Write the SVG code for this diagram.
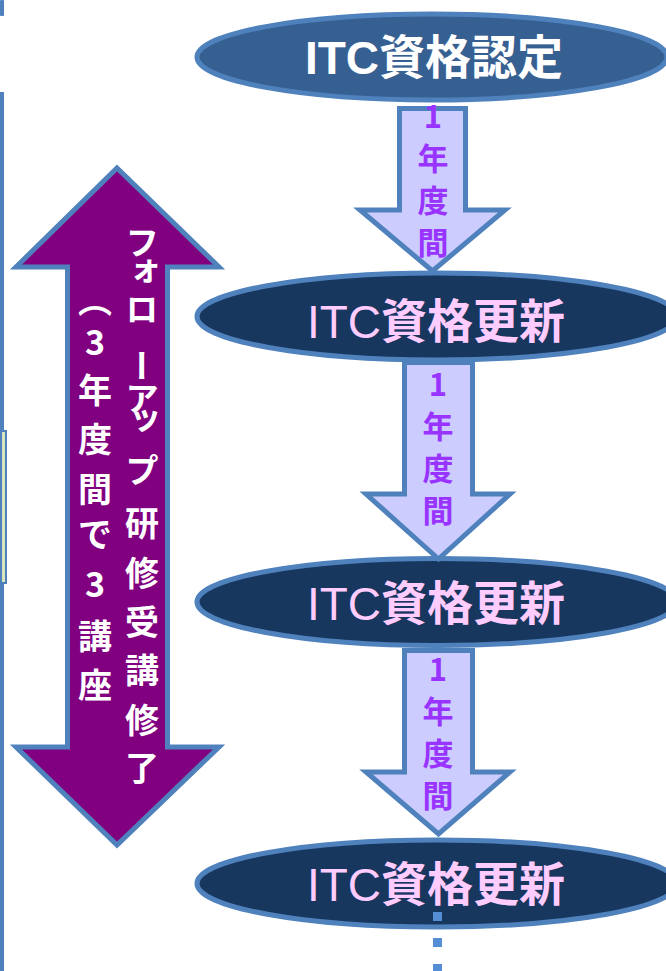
<svg xmlns="http://www.w3.org/2000/svg" width="666" height="971" viewBox="0 0 666 971">
<style>
.ell{stroke:#4f81bd;stroke-width:5}
.e1{fill:#376092}
.e2{fill:#17375e}
.dn{fill:#ccccff;stroke:#4f81bd;stroke-width:5;stroke-linejoin:miter}
.big{fill:#800080;stroke:#4f81bd;stroke-width:5}
.lbl{font-family:"Liberation Sans","Noto Sans CJK JP",sans-serif;font-size:47px;text-anchor:start}
.w{fill:#ffffff;font-weight:bold}
.p{fill:#ffccff;font-weight:bold}
.lat{font-weight:normal}
.yr{font-family:"Noto Sans CJK JP",sans-serif;font-size:31px;font-weight:bold;fill:#9933ff;writing-mode:vertical-rl;text-orientation:upright;letter-spacing:11px}
.vt{font-family:"Noto Sans CJK JP",sans-serif;font-size:34px;font-weight:bold;fill:#ffffff;writing-mode:vertical-rl;text-orientation:mixed;text-anchor:middle}
.ht{font-family:"Noto Sans CJK JP",sans-serif;font-size:34px;font-weight:bold;fill:#ffffff;text-anchor:middle;dominant-baseline:central}
.edge{fill:#4f81bd}
</style>
<g id="edges">
<rect class="edge" x="0" y="0" width="4" height="16" rx="1"/>
<rect class="edge" x="0" y="92" width="4" height="879"/>
<rect x="1" y="431" width="5" height="152" fill="#d7e4bd" stroke="#4f81bd" stroke-width="2"/>
</g>
<g id="node-itc-nintei">
<ellipse class="ell e1" cx="432" cy="57" rx="235" ry="43"/>
<text class="lbl w" x="305" y="74" textLength="258" lengthAdjust="spacingAndGlyphs">ITC資格認定</text>
</g>
<g id="node-koushin-1">
<ellipse class="ell e2" cx="437" cy="316.5" rx="240" ry="43.5"/>
<text class="lbl p" x="307" y="338" textLength="258" lengthAdjust="spacingAndGlyphs"><tspan class="lat">ITC</tspan>資格更新</text>
</g>
<g id="node-koushin-2">
<ellipse class="ell e2" cx="437" cy="602" rx="240" ry="43.5"/>
<text class="lbl p" x="307" y="620" textLength="258" lengthAdjust="spacingAndGlyphs"><tspan class="lat">ITC</tspan>資格更新</text>
</g>
<g id="node-koushin-3">
<ellipse class="ell e2" cx="437" cy="883.5" rx="240" ry="43.5"/>
<text class="lbl p" x="307" y="901" textLength="258" lengthAdjust="spacingAndGlyphs"><tspan class="lat">ITC</tspan>資格更新</text>
</g>
<g id="connectors">
<polygon class="dn" points="399.5,108.5 465.5,108.5 465.5,210 505,210 432.5,271 360,210 399.5,210"/>
<polygon class="dn" points="404.5,362.5 472.5,362.5 472.5,494 510,494 438.5,559 366,494 404.5,494"/>
<polygon class="dn" points="404.5,650.5 472.5,650.5 472.5,772 510,772 438.5,834 366,772 404.5,772"/>
<line x1="437.5" y1="912" x2="437.5" y2="971" stroke="#558ed5" stroke-width="9" stroke-dasharray="9 17"/>
</g>
<g id="label-year-1">
<text class="yr" x="433" y="100.5">1年度間</text>
</g>
<g id="label-year-2">
<text class="yr" x="438" y="368.5">1年度間</text>
</g>
<g id="label-year-3">
<text class="yr" x="438" y="653.5">1年度間</text>
</g>
<g id="node-followup">
<polygon class="big" points="117,168 219,267 167.5,267 167.5,747 219,747 117,845 16,747 67.5,747 67.5,267 16,267"/>
<text class="vt"><tspan x="142" y="242">フ</tspan><tspan x="142" y="271">ォ</tspan><tspan x="142" y="309">ロ</tspan><tspan x="142" y="366">ー</tspan><tspan x="142" y="398">ア</tspan><tspan x="142" y="420">ッ</tspan><tspan x="142" y="470">プ</tspan><tspan x="142" y="523">研</tspan><tspan x="142" y="573">修</tspan><tspan x="142" y="622">受</tspan><tspan x="142" y="670">講</tspan><tspan x="142" y="720">修</tspan><tspan x="142" y="768">了</tspan></text>
<text class="ht"><tspan x="95" y="298">︵</tspan><tspan x="95" y="340">3</tspan><tspan x="95" y="388">年</tspan><tspan x="95" y="437">度</tspan><tspan x="95" y="487">間</tspan><tspan x="95" y="532">で</tspan><tspan x="95" y="582">3</tspan><tspan x="95" y="634">講</tspan><tspan x="95" y="683">座</tspan></text>
</g>
</svg>
